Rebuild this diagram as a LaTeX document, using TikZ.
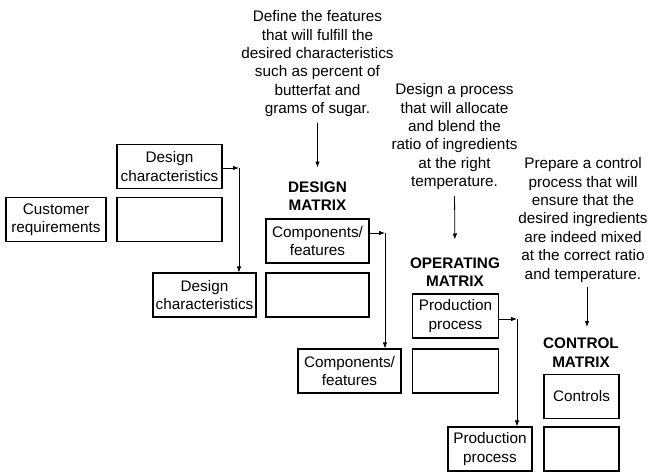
\documentclass[tikz,border=0pt]{standalone}
\usepackage{fontspec}
\setmainfont{Liberation Sans}
\usetikzlibrary{arrows.meta}

\begin{document}
\begin{tikzpicture}[x=1pt,y=-1pt,
  caja/.style={draw, line width=1.1pt, inner sep=0pt, minimum height=44pt, align=center, font=\letra},
  texto/.style={inner sep=0pt, align=center, font=\letra},
  titulo/.style={inner sep=0pt, align=center, font=\letra\bfseries},
  flecha/.style={-{Latex[length=6pt,width=4.5pt]}, line width=0.8pt}]
  \def\letra{\fontsize{15.3}{18.4}\selectfont}
  \useasboundingbox (0,0) rectangle (651,472);

  % Primera matriz
  \node[caja, minimum width=100pt] (cliente) at (56,219.5) {Customer\\requirements};
  \node[caja, minimum width=105pt] (dcarA) at (169.5,166.5) {Design\\characteristics};
  \node[caja, minimum width=105pt] (vacioA) at (169.5,219.5) {};

  % Matriz de diseno
  \node[caja, minimum width=103pt] (dcarB) at (204.5,295) {Design\\characteristics};
  \node[caja, minimum width=103pt] (compA) at (317.5,241) {Components/\\features};
  \node[caja, minimum width=103pt] (vacioB) at (317.5,295) {};

  % Matriz de operacion
  \node[caja, minimum width=103pt] (compB) at (349.5,371) {Components/\\features};
  \node[caja, minimum width=86pt] (prodA) at (455.5,316) {Production\\process};
  \node[caja, minimum width=86pt] (vacioC) at (455.5,371) {};

  % Matriz de control
  \node[caja, minimum width=84pt] (prodB) at (490,449) {Production\\process};
  \node[caja, minimum width=75pt] (control) at (581.5,396.5) {Controls};
  \node[caja, minimum width=75pt] (vacioD) at (581.5,449) {};

  % Titulos
  \node[titulo, anchor=north] (tdis) at (317.5,181.5) {DESIGN\\MATRIX};
  \node[titulo, anchor=north] (tope) at (455,257.5) {OPERATING\\MATRIX};
  \node[titulo, anchor=north] (tcon) at (581,338) {CONTROL\\MATRIX};

  % Textos
  \node[texto, anchor=north] (xdis) at (317.5,10.5) {Define the features\\that will fulfill the\\desired characteristics\\such as percent of\\butterfat and\\grams of sugar.};
  \node[texto, anchor=north] (xope) at (454.5,83.5) {Design a process\\that will allocate\\and blend the\\ratio of ingredients\\at the right\\temperature.};
  \node[texto, anchor=north] (xcon) at (583,157.5) {Prepare a control\\process that will\\ensure that the\\desired ingredients\\are indeed mixed\\at the correct ratio\\and temperature.};

  \draw[flecha, shorten <=6pt, shorten >=14pt] (xdis.south) -- (tdis.north);
  \draw[flecha, shorten <=6pt, shorten >=18pt] (xope.south) -- (tope.north);
  \draw[flecha, shorten <=4pt, shorten >=11pt] ([xshift=4pt]xcon.south) -- ([xshift=6pt]tcon.north);

  % Esquinas
  \coordinate (e1) at (239,168);
  \coordinate (e2) at (385,233);
  \coordinate (e3) at (517,319);

  \draw[flecha] (dcarA.east |- e1) -- (e1);
  \draw[flecha] (e1) -- (e1 |- dcarB.north);
  \draw[flecha] (compA.east |- e2) -- (e2);
  \draw[flecha] (e2) -- (e2 |- compB.north);
  \draw[flecha] (prodA.east |- e3) -- (e3);
  \draw[flecha] (e3) -- (e3 |- prodB.north);
\end{tikzpicture}
\end{document}
